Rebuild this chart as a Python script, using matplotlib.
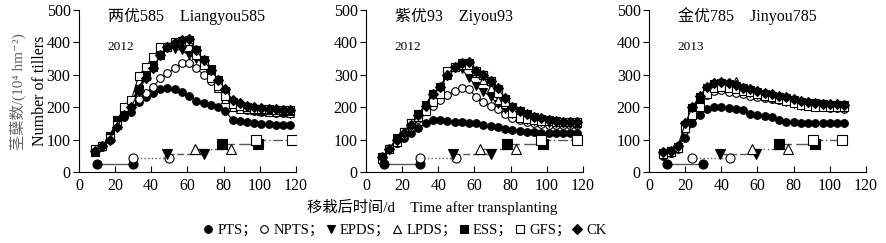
import numpy as np
import matplotlib
matplotlib.use('Agg')
import matplotlib.pyplot as plt
from matplotlib.lines import Line2D

plt.rcParams['font.family'] = ['Liberation Serif', 'Noto Sans CJK SC', 'DejaVu Sans']

# days after transplanting
days12 = np.arange(9, 118, 4)   # 2012 panels
days13 = np.arange(8, 109, 4)   # 2013 panel

# 两优585 Liangyou585 (2012)
pts1 = [65, 80, 100, 145, 170, 185, 215, 232, 245, 255, 258, 255, 248, 235, 220, 213, 207, 200, 188, 160, 156, 153, 150, 149, 148, 146, 145, 145]
npts1 = [62, 78, 105, 150, 180, 200, 225, 245, 262, 290, 305, 320, 335, 336, 320, 300, 280, 260, 235, 205, 195, 190, 188, 186, 185, 183, 182, 182]
epds1 = [62, 80, 110, 155, 185, 210, 255, 295, 330, 365, 385, 380, 375, 360, 350, 340, 310, 275, 240, 210, 200, 195, 190, 188, 185, 183, 182, 180]
lpds1 = [62, 80, 110, 160, 188, 215, 260, 300, 330, 365, 385, 398, 405, 405, 370, 335, 300, 260, 225, 200, 196, 193, 190, 188, 186, 185, 185, 183]
ess1 = [62, 80, 110, 160, 190, 218, 255, 295, 325, 362, 385, 398, 405, 408, 375, 345, 318, 285, 250, 215, 205, 200, 196, 192, 190, 190, 188, 188]
gfs1 = [70, 80, 105, 145, 200, 222, 296, 325, 355, 385, 385, 400, 405, 405, 360, 330, 290, 265, 235, 210, 205, 200, 196, 195, 193, 192, 191, 190]
ck1 = [65, 80, 100, 140, 175, 200, 250, 290, 320, 362, 385, 398, 407, 410, 375, 345, 315, 285, 255, 222, 212, 205, 200, 198, 196, 194, 192, 192]

# 紫优93 Ziyou93 (2012)
pts2 = [40, 72, 90, 105, 120, 135, 150, 160, 162, 158, 155, 153, 152, 150, 145, 141, 138, 134, 130, 128, 125, 123, 121, 120, 120, 120, 120, 120]
npts2 = [42, 72, 90, 115, 140, 165, 188, 205, 222, 237, 250, 258, 255, 232, 215, 205, 195, 180, 168, 160, 155, 150, 148, 146, 145, 145, 145, 145]
epds2 = [45, 72, 102, 125, 150, 178, 205, 240, 262, 300, 322, 318, 290, 265, 248, 232, 210, 195, 180, 170, 162, 158, 155, 152, 150, 150, 148, 148]
lpds2 = [45, 72, 102, 125, 150, 178, 208, 242, 262, 300, 325, 335, 330, 305, 285, 260, 222, 210, 198, 185, 172, 165, 160, 157, 155, 154, 153, 152]
ess2 = [46, 72, 105, 122, 148, 178, 208, 242, 262, 302, 325, 335, 336, 312, 298, 280, 256, 226, 200, 188, 178, 170, 165, 160, 157, 155, 155, 155]
gfs2 = [40, 70, 92, 125, 150, 170, 188, 215, 240, 312, 325, 330, 330, 312, 300, 280, 245, 215, 182, 168, 163, 160, 158, 156, 155, 155, 155, 155]
ck2 = [46, 72, 100, 120, 145, 175, 205, 240, 262, 300, 325, 335, 338, 312, 299, 282, 258, 228, 200, 188, 178, 170, 166, 162, 158, 155, 155, 155]

# 金优785 Jinyou785 (2013)
pts3 = [50, 58, 80, 105, 150, 175, 195, 200, 202, 197, 196, 190, 178, 175, 172, 170, 160, 154, 153, 152, 152, 151, 150, 150, 150, 150]
npts3 = [55, 60, 72, 130, 185, 220, 238, 250, 252, 248, 245, 240, 236, 232, 228, 225, 222, 218, 214, 208, 205, 202, 200, 198, 197, 196]
epds3 = [58, 62, 75, 140, 192, 225, 252, 265, 268, 262, 255, 250, 245, 238, 232, 225, 222, 215, 210, 205, 203, 202, 200, 198, 198, 198]
lpds3 = [58, 62, 75, 140, 195, 228, 258, 270, 272, 275, 280, 262, 252, 244, 238, 232, 228, 224, 218, 214, 210, 208, 206, 205, 204, 203]
ess3 = [60, 64, 78, 145, 198, 232, 260, 272, 276, 272, 265, 258, 252, 246, 240, 236, 232, 228, 222, 217, 214, 212, 210, 208, 207, 206]
gfs3 = [55, 62, 75, 135, 175, 200, 242, 258, 262, 260, 255, 250, 246, 240, 235, 230, 225, 220, 212, 206, 205, 202, 200, 200, 200, 200]
ck3 = [62, 66, 80, 150, 200, 235, 262, 275, 278, 276, 268, 260, 255, 250, 244, 240, 235, 230, 226, 220, 216, 213, 211, 210, 210, 208]

# growth-stage periods (start/end day) and the level they are drawn at
stage_y = [25, 42, 55, 72, 86, 100]
stages1 = [(10, 30), (30, 50), (49, 69), (64, 84), (79, 99), (98, 118)]
stages2 = [(10, 30), (30, 50), (48, 69), (63, 83), (78, 98), (97, 117)]
stages3 = [(10, 30), (24, 45), (39, 59), (57, 77), (72, 92), (91, 107)]

names = ['PTS', 'NPTS', 'EPDS', 'LPDS', 'ESS', 'GFS', 'CK']
markers = ['o', 'o', 'v', '^', 's', 's', 'D']
faces = ['k', 'w', 'k', 'w', 'k', 'w', 'k']
stage_ls = ['-', ':', (0, (5, 2)), (0, (6, 2, 1, 2, 1, 2)), (0, (9, 3)), (0, (7, 2, 1, 2))]

panels = [
    (days12, [pts1, npts1, epds1, lpds1, ess1, gfs1, ck1], stages1, '两优585　Liangyou585', '2012'),
    (days12, [pts2, npts2, epds2, lpds2, ess2, gfs2, ck2], stages2, '紫优93　Ziyou93', '2012'),
    (days13, [pts3, npts3, epds3, lpds3, ess3, gfs3, ck3], stages3, '金优785　Jinyou785', '2013'),
]
lefts = [0.089, 0.4126, 0.7317]

fig = plt.figure(figsize=(8.87, 2.43), dpi=100)
for (d, series, stages, title, year), left in zip(panels, lefts):
    ax = fig.add_axes([left, 0.292, 0.2445, 0.667])
    for i in range(7):
        ax.plot(d, series[i], color='k', lw=0.8, marker=markers[i], ms=5.5 if markers[i] != 'D' else 4.6,
                mfc=faces[i], mec='k', mew=0.8, zorder=3)
    for i, (s, e) in enumerate(stages):
        ax.plot([s, e], [stage_y[i], stage_y[i]], color='0.35', lw=1.0, ls=stage_ls[i], zorder=2)
        ax.plot([s, e], [stage_y[i], stage_y[i]], ls='none', marker=markers[i], ms=6.5,
                mfc=faces[i], mec='k', mew=0.8, zorder=3)
    ax.set_xlim(0, 120)
    ax.set_ylim(0, 500)
    ax.set_xticks(range(0, 121, 20))
    ax.set_yticks(range(0, 501, 100))
    ax.spines['top'].set_visible(False)
    ax.spines['right'].set_visible(False)
    ax.tick_params(axis='x', direction='in', length=4, labelsize=11.5, pad=4)
    ax.tick_params(axis='y', direction='out', length=4, labelsize=11.5, pad=2)
    ax.text(16, 481, title, fontsize=11.5, va='center')
    ax.text(16, 386, year, fontsize=9.5, va='center')

fig.text(0.02, 0.625, '茎蘖数/(10⁴ hm⁻²)', rotation=90, ha='center', va='center', fontsize=11, color='0.4')
fig.text(0.045, 0.625, 'Number of tillers', rotation=90, ha='center', va='center', fontsize=11.5)
fig.text(0.487, 0.148, '移栽后时间/d　Time after transplanting', ha='center', va='center', fontsize=11)

handles = [Line2D([], [], ls='none', marker=m, ms=5.5, mfc=f, mec='k', mew=0.8) for m, f in zip(markers, faces)]
labels = [n + '；' for n in names[:-1]] + [names[-1]]
fig.legend(handles, labels, ncol=7, loc='center', bbox_to_anchor=(0.457, 0.053), frameon=False,
           handlelength=0.6, handletextpad=0.35, columnspacing=0.15, fontsize=10.5, borderpad=0)

fig.savefig('out.png', dpi=100)
